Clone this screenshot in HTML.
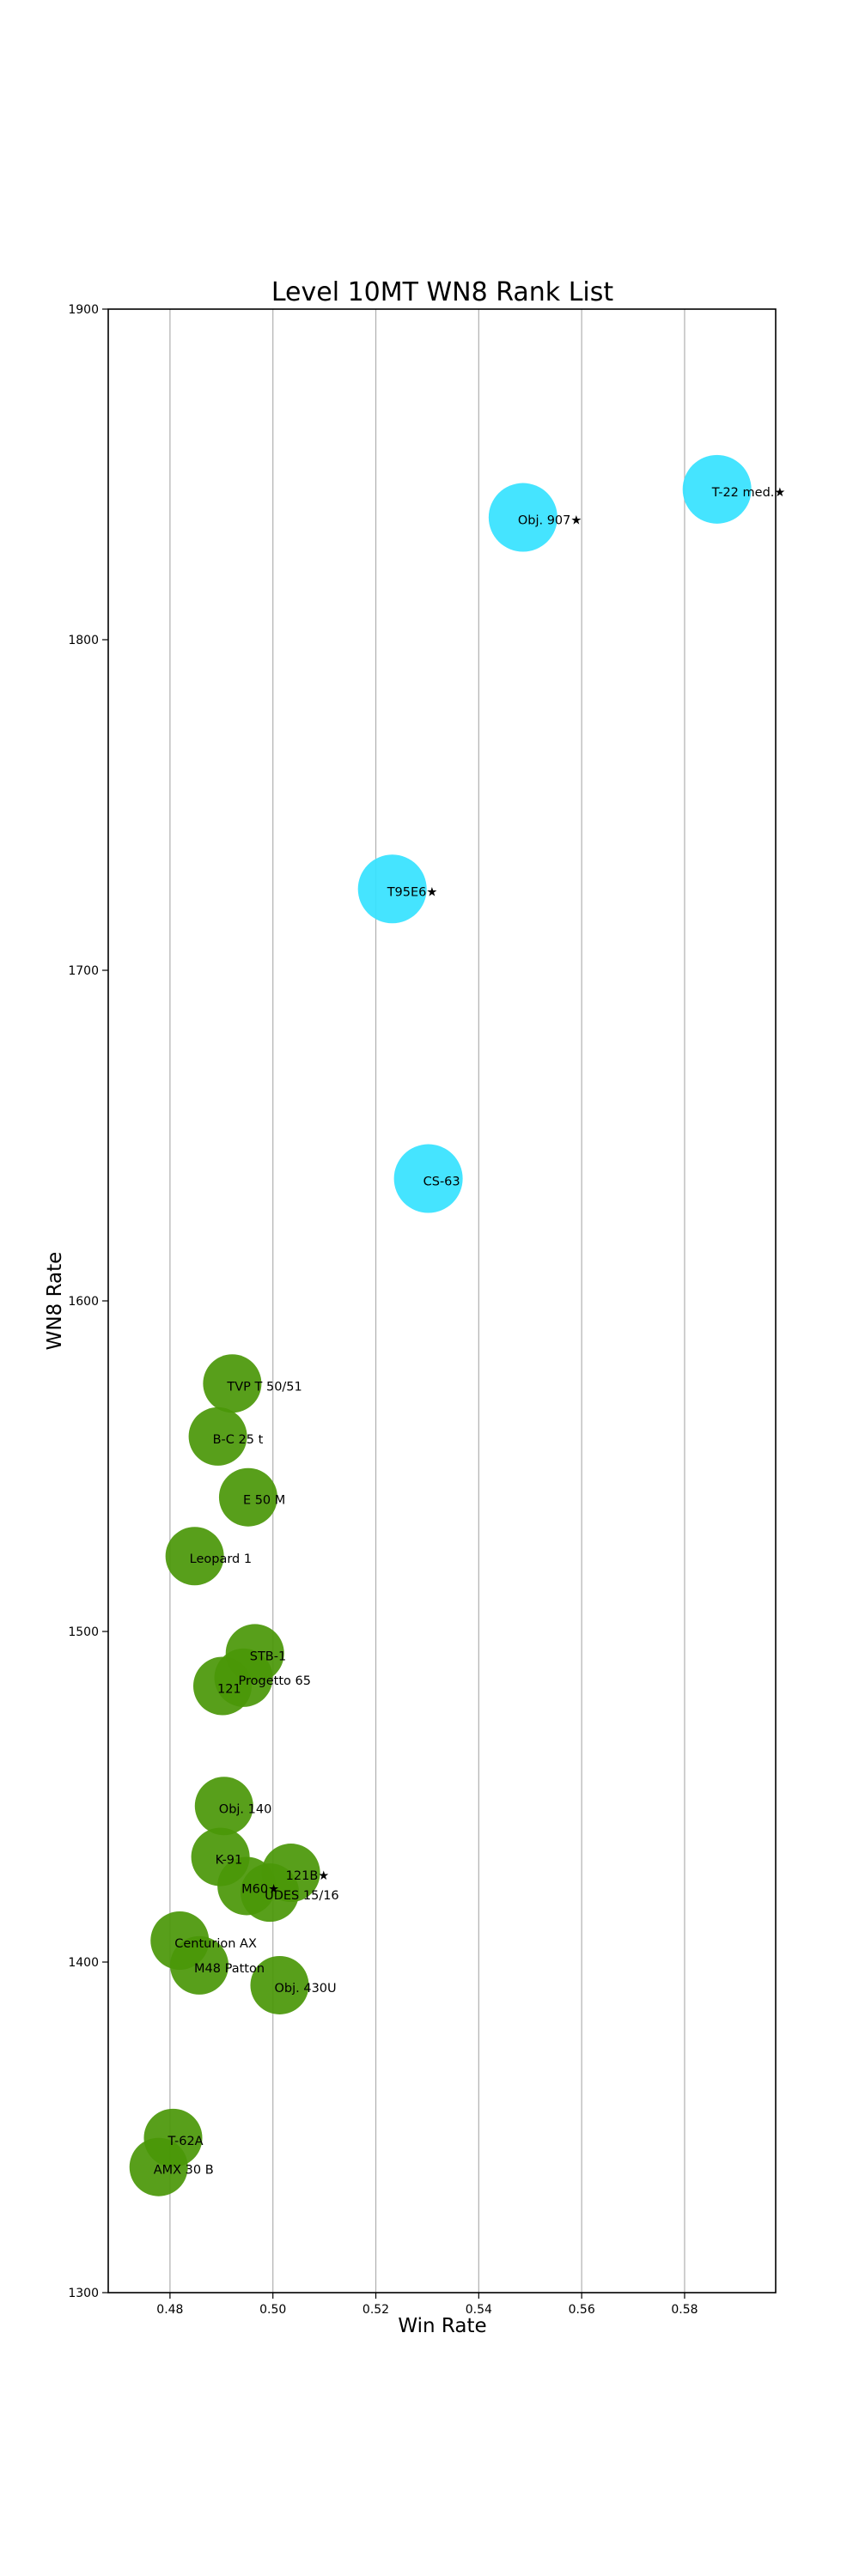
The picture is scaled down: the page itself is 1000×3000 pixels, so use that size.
<!DOCTYPE html>
<html><head><meta charset="utf-8"><style>
html,body{margin:0;padding:0;background:#fff;}
svg{display:block;font-family:"DejaVu Sans","Liberation Sans",sans-serif;}
</style></head><body>
<svg id="chart" width="1000" height="3000" viewBox="0 0 1000 3000" xmlns="http://www.w3.org/2000/svg">
<rect width="1000" height="3000" fill="#fff"/>
<text x="515" y="350" font-size="30" text-anchor="middle">Level 10MT WN8 Rank List</text>
<g id="grid"></g>
<g id="bubbles"></g>
<g id="labels"></g>
<rect x="126" y="360" width="777" height="2310" fill="none" stroke="#000" stroke-width="1.6"/>
<g id="xticks"></g>
<g id="yticks"></g>
<text x="515" y="2716" font-size="23" text-anchor="middle">Win Rate</text>
<text transform="translate(71,1515) rotate(-90)" font-size="23" text-anchor="middle">WN8 Rate</text>
</svg>
<script>
const names = ["T-22 med.★","Obj. 907★","T95E6★","CS-63","TVP T 50/51","B-C 25 t","E 50 M","Leopard 1","STB-1","Progetto 65","121","Obj. 140","K-91","M60★","121B★","UDES 15/16","Centurion AX","M48 Patton","Obj. 430U","T-62A","AMX 30 B"];
const winRates = [0.5863,0.5486,0.5232,0.5302,0.4921,0.4893,0.4952,0.4848,0.4965,0.4943,0.4902,0.4905,0.4898,0.4949,0.5035,0.4994,0.4819,0.4857,0.5013,0.4806,0.4778];
const wn8 = [1845.5,1837,1724.6,1637,1575,1559,1540.6,1522.8,1493.4,1486,1483.5,1447.2,1431.8,1423,1427,1421,1406.5,1399,1393,1346.8,1338];
const groups = ["top","top","top","top","mid","mid","mid","mid","mid","mid","mid","mid","mid","mid","mid","mid","mid","mid","mid","mid","mid"];
const xTicks = [0.48,0.50,0.52,0.54,0.56,0.58];
const yTicks = [1300,1400,1500,1600,1700,1800,1900];

const NS="http://www.w3.org/2000/svg";
const X0=126,X1=903,Y0=360,Y1=2670;
const xMin=0.468, xMax=0.5977, yMin=1300, yMax=1900;
function xs(v){return X0+(v-xMin)/(xMax-xMin)*(X1-X0);}
function ys(v){return Y1-(v-yMin)/(yMax-yMin)*(Y1-Y0);}
function mk(tag,attrs,parent){const e=document.createElementNS(NS,tag);for(const k in attrs)e.setAttribute(k,attrs[k]);document.getElementById(parent).appendChild(e);return e;}

xTicks.forEach(t=>{
  const g=mk("line",{x1:xs(t),x2:xs(t),y1:Y0,y2:Y1,stroke:"#b0b0b0","stroke-width":1.2},"grid");
  
  
  const tk=mk("line",{x1:xs(t),x2:xs(t),y1:Y1,y2:Y1+7,stroke:"#000","stroke-width":1.2},"xticks");
  
  
  const lb=mk("text",{x:xs(t),y:Y1+24,"font-size":14,"text-anchor":"middle"},"xticks");
  lb.textContent=t.toFixed(2);
  
  
});
yTicks.forEach(t=>{
  const tk=mk("line",{x1:X0-7,x2:X0,y1:ys(t),y2:ys(t),stroke:"#000","stroke-width":1.2},"yticks");
  
  
  const lb=mk("text",{x:X0-11,y:ys(t)+5,"font-size":14,"text-anchor":"end"},"yticks");
  lb.textContent=String(t);
  
  
});
names.forEach((n,i)=>{
  const cx=xs(winRates[i]), cy=ys(wn8[i]);
  const top=groups[i]==="top";
  const c=mk("circle",{cx:cx,cy:cy,r:top?40:34,fill:top?"#35e2ff":"#4a9708","fill-opacity":0.92},"bubbles");
  
  
  const t=mk("text",{x:cx-6,y:cy+8,"font-size":14.5},"labels");
  t.textContent=n;
  
  
});
</script>
</body></html>
